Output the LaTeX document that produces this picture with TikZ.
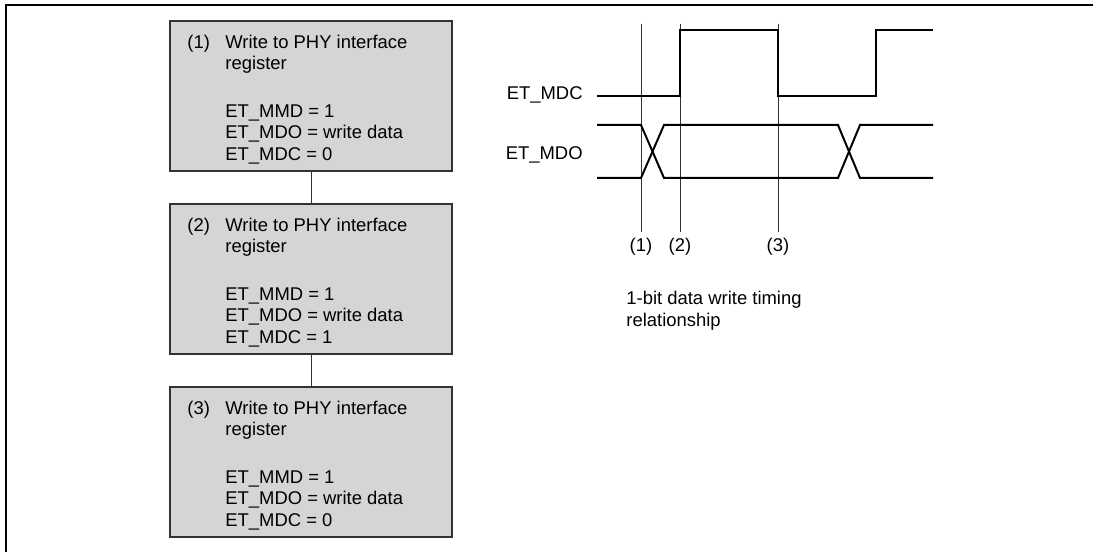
\documentclass[tikz,border=0pt]{standalone}
\usepackage{fontspec}
\setmainfont{Liberation Sans}
\usetikzlibrary{calc}

\definecolor{boxgray}{RGB}{212,213,215}
\newcommand{\phywrite}[2]{%
  \begin{tabular}[t]{@{}p{19bp}@{}l@{}}
    #1 & Write to PHY interface\\
       & register\\[13bp]
       & ET\_MMD = 1\\
       & ET\_MDO = write data\\
       & ET\_MDC = #2
  \end{tabular}}

\begin{document}
\begin{tikzpicture}[
      x=0.5bp, y=-0.5bp,
      font=\fontsize{9.25}{10.75}\selectfont,
      regbox/.style={rectangle, draw=black!80, line width=1bp, fill=boxgray,
                     minimum width=141bp, minimum height=75bp, inner sep=0pt},
      regtext/.style={anchor=base west, inner sep=0pt},
      signame/.style={anchor=base east, inner sep=0pt},
      tlabel/.style={anchor=base, inner sep=3bp},
      link/.style={line width=0.5bp, draw=black!80},
      guide/.style={line width=0.5bp, draw=black!80},
      wave/.style={line width=1bp, line join=miter},
    ]
    \useasboundingbox (0,0) rectangle (1093,552);
    % frame
    \draw[line width=1bp] (1093,5) -- (6,5) -- (6,552);

    % write sequence
    \node[regbox] (reg1) at (311,96.5)  {};
    \node[regbox] (reg2) at (311,279.5) {};
    \node[regbox] (reg3) at (311,462.5) {};
    \node[regtext] (txt1) at ($(reg1.north west)+(18,28)$) {\phywrite{(1)}{0}};
    \node[regtext] (txt2) at ($(reg2.north west)+(18,28)$) {\phywrite{(2)}{1}};
    \node[regtext] (txt3) at ($(reg3.north west)+(18,28)$) {\phywrite{(3)}{0}};
    \draw[link] (reg1) -- (reg2);
    \draw[link] (reg2) -- (reg3);

    % timing
    \node[signame] (mdc) at (583,100) {ET\_MDC};
    \node[signame] (mdo) at (583,160) {ET\_MDO};

    \node[tlabel] (t1) at (641,252) {(1)};
    \node[tlabel] (t2) at (680,252) {(2)};
    \node[tlabel] (t3) at (778,252) {(3)};
    \coordinate (g1) at (641,24);
    \coordinate (g2) at (680,24);
    \coordinate (g3) at (778,24);
    \draw[guide] (g1) -- (t1.north);
    \draw[guide] (g2) -- (t2.north);
    \draw[guide] (g3) -- (t3.north);

    \draw[wave] (597,96) -- (680,96) -- (680,30) -- (778,30) -- (778,96)
                -- (876,96) -- (876,30) -- (933,30);
    \draw[wave] (597,125) -- (641,125) -- (664,178) -- (838,178) -- (860,125) -- (933,125);
    \draw[wave] (597,178) -- (641,178) -- (664,125) -- (838,125) -- (860,178) -- (933,178);

    \node[regtext] (note) at (626,305)
      {\begin{tabular}[t]{@{}l@{}}1-bit data write timing\\ relationship\end{tabular}};
  \end{tikzpicture}
\end{document}
